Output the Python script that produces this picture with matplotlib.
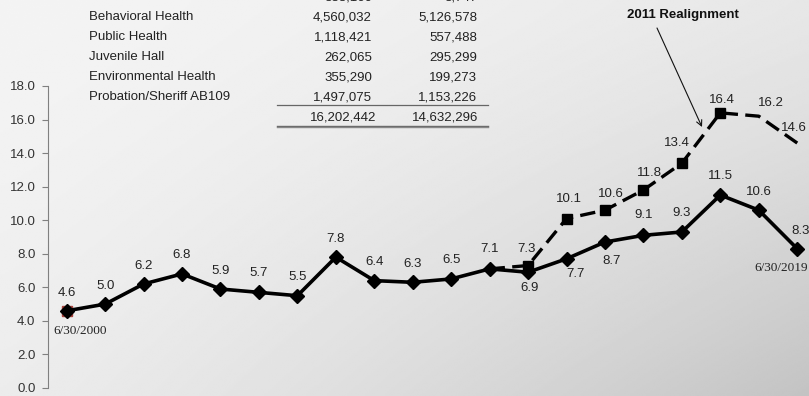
import numpy as np
import matplotlib
matplotlib.use("Agg")
import matplotlib.pyplot as plt

W, H = 809, 396

# fiscal year points, 6/30/2000 .. 6/30/2019
years = list(range(2000, 2020))
total_pct = [4.6, 5.0, 6.2, 6.8, 5.9, 5.7, 5.5, 7.8, 6.4, 6.3,
             6.5, 7.1, 6.9, 7.7, 8.7, 9.1, 9.3, 11.5, 10.6, 8.3]
# series including 2011 realignment, begins at FY2011
realign_years = list(range(2011, 2020))
realign_pct = [7.1, 7.3, 10.1, 10.6, 11.8, 13.4, 16.4, 16.2, 14.6]

table_rows = ["CA State Children", "Behavioral Health", "Public Health",
              "Juvenile Hall", "Environmental Health", "Probation/Sheriff AB109"]
table_col1 = ["388,160", "4,560,032", "1,118,421", "262,065", "355,290", "1,497,075"]
table_col2 = ["8,747", "5,126,578", "557,488", "295,299", "199,273", "1,153,226"]
table_totals = ["16,202,442", "14,632,296"]

yticks = [0, 2, 4, 6, 8, 10, 12, 14, 16, 18]

# label offsets in pixels (dx, dy)
total_offsets = [(0, 18), (0, 18), (0, 18), (0, 19), (0, 18), (0, 19), (0, 19),
                 (0, 18), (0, 19), (0, 18), (0, 19), (0, 20), (1, -16), (9, -15),
                 (7, -19), (0, 20), (0, 19), (0, 19), (0, 18), (3, 18)]
realign_offsets = [None, (-2, 17), (2, 20), (6, 16), (6, 17), (-5, 20),
                   (2, 13), (12, 13), (-3, 15)]

SANS = "Liberation Sans"
SERIF = "Liberation Serif"
FS = 9.5


def fx(px):
    return px / W


def fy(py):
    return 1 - py / H


fig = plt.figure(figsize=(W / 100, H / 100), dpi=100)

# gray gradient backdrop
bg = fig.add_axes([0, 0, 1, 1], zorder=-10)
xn, yn = np.meshgrid(np.linspace(0, 1, 400), np.linspace(0, 1, 200))
shade = 0.955 - 0.05 * xn ** 1.5 - 0.03 * yn ** 1.5 - 0.11 * (xn * yn) ** 1.2
bg.imshow(shade, cmap="gray", vmin=0, vmax=1, aspect="auto",
          extent=[0, 1, 0, 1], origin="upper", interpolation="bilinear")
bg.set_axis_off()

ax = fig.add_axes([fx(48), fy(388), fx(W - 48), (388 - 86) / H])
ax.patch.set_alpha(0)

x_total = np.array(years) - years[0]
x_real = np.array(realign_years) - years[0]

ax.plot(x_real, realign_pct, color="black", lw=2.4,
        linestyle=(0, (4.6, 2.2)), dash_capstyle="butt", zorder=3)
ax.plot(x_real[1:7], realign_pct[1:7], linestyle="none", marker="s",
        markersize=7.0, color="black", zorder=4)

ax.plot(x_total[:1], total_pct[:1], linestyle="none", marker="s",
        markersize=7.4, color="#a8433c", zorder=4)
ax.plot(x_total, total_pct, color="black", lw=2.6, marker="D",
        markersize=7.4, zorder=5, clip_on=False)

for x, v, (dx, dy) in zip(x_total, total_pct, total_offsets):
    ax.annotate(f"{v:.1f}", (x, v), xytext=(dx, dy), textcoords="offset pixels",
                ha="center", va="center", fontsize=FS, family=SANS,
                color="#222222", annotation_clip=False)

for x, v, off in zip(x_real, realign_pct, realign_offsets):
    if off is None:
        continue
    ax.annotate(f"{v:.1f}", (x, v), xytext=off, textcoords="offset pixels",
                ha="center", va="center", fontsize=FS, family=SANS,
                color="#222222", annotation_clip=False)

ax.annotate("6/30/2000", (x_total[0], total_pct[0]), xytext=(13, -20),
            textcoords="offset pixels", ha="center", va="center",
            fontsize=FS, family=SERIF, color="#222222")
ax.annotate("6/30/2019", (x_total[-1], total_pct[-1]), xytext=(-16, -19),
            textcoords="offset pixels", ha="center", va="center",
            fontsize=FS, family=SERIF, color="#222222", annotation_clip=False)

ax.set_xlim(-0.486, 19.306)
ax.set_ylim(0, 18)
ax.set_yticks(yticks)
ax.set_yticklabels([f"{t:.1f}" for t in yticks], family=SANS, fontsize=FS,
                   color="#333333")
ax.set_xticks([])
for side in ("top", "right", "bottom"):
    ax.spines[side].set_visible(False)
ax.spines["left"].set_color("#808080")
ax.spines["left"].set_linewidth(0.8)
ax.tick_params(axis="y", length=4, width=0.8, color="#808080", pad=5)

# cost table in the top left
for i, (name, c1, c2) in enumerate(zip(table_rows, table_col1, table_col2)):
    y = fy(-3 + 20 * i)
    fig.text(fx(89), y, name, ha="left", va="center", fontsize=FS,
             family=SANS, color="#222222")
    fig.text(fx(372), y, c1, ha="right", va="center", fontsize=FS,
             family=SANS, color="#222222")
    fig.text(fx(477), y, c2, ha="right", va="center", fontsize=FS,
             family=SANS, color="#222222")
fig.text(fx(376), fy(117), table_totals[0], ha="right", va="center",
         fontsize=FS, family=SANS, color="#222222")
fig.text(fx(478), fy(117), table_totals[1], ha="right", va="center",
         fontsize=FS, family=SANS, color="#222222")
fig.add_artist(plt.Line2D([fx(277), fx(488)], [fy(105), fy(105)],
                          color="#666666", lw=0.9))
fig.add_artist(plt.Line2D([fx(277), fx(488)], [fy(125.5), fy(125.5)],
                          color="#666666", lw=1.0))
fig.add_artist(plt.Line2D([fx(277), fx(488)], [fy(127), fy(127)],
                          color="#888888", lw=1.0))

fig.text(fx(683), fy(15), "2011 Realignment", ha="center", va="center",
         fontsize=FS, family=SANS, weight="bold", color="#111111")
ax.annotate("", xy=(fx(702), fy(127)), xycoords="figure fraction",
            xytext=(fx(657), fy(28)), textcoords="figure fraction",
            arrowprops=dict(arrowstyle="->", color="#111111", lw=0.8,
                            shrinkA=0, shrinkB=0, mutation_scale=10))

fig.savefig("out.png", dpi=100)
